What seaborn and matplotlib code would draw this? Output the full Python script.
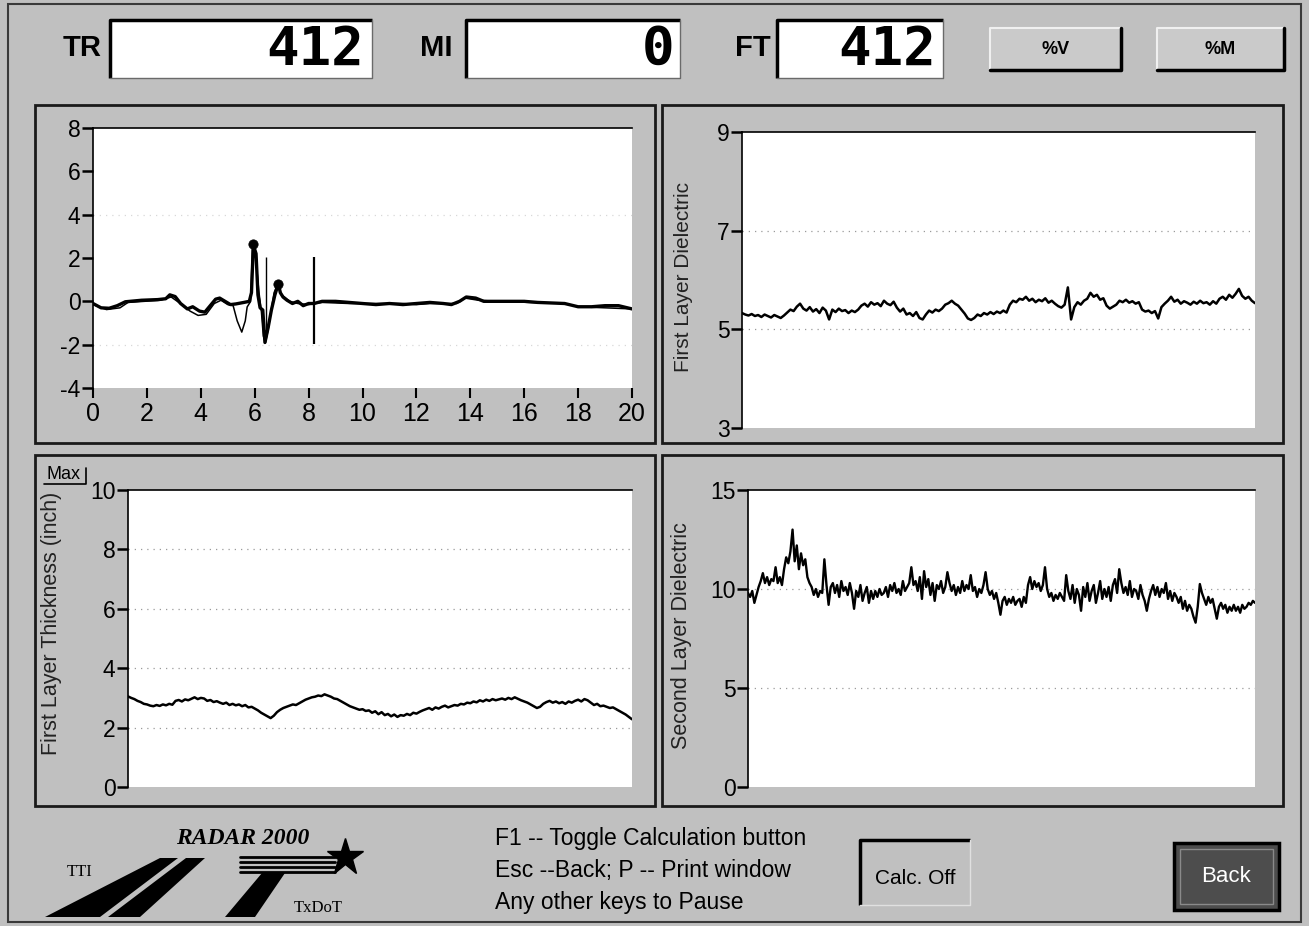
import matplotlib
matplotlib.use("Agg")
import matplotlib.pyplot as plt
import seaborn as sns
from matplotlib.patches import Rectangle, Polygon
from matplotlib.lines import Line2D

# ------------------------------------------------------------------ data
# top-left: GPR waveform (amplitude vs time, ns)
tl_x_main = [0, 0.3, 0.6, 0.9, 1.2, 1.8, 2.4, 2.7, 2.85, 3.05, 3.25, 3.5, 3.7, 3.95, 4.15,
             4.35, 4.55, 4.7, 4.9, 5.1, 5.3, 5.6, 5.8, 5.88, 5.95, 6.05, 6.12, 6.2, 6.3,
             6.38, 6.5, 6.62, 6.75, 6.88, 6.95, 7.05, 7.2, 7.4, 7.6, 7.8, 8.0, 8.2, 8.5,
             9.0, 9.5, 10.0, 10.5, 11.0, 11.5, 12.0, 12.5, 13.0, 13.3, 13.6, 13.85, 14.2,
             14.5, 15.0, 16.0, 16.5, 17.5, 18.0, 18.5, 19.0, 19.5, 20.0]
tl_y_main = [-0.1, -0.3, -0.32, -0.2, -0.02, 0.05, 0.08, 0.12, 0.3, 0.22, -0.1, -0.35, -0.25,
             -0.45, -0.5, -0.2, 0.1, 0.15, 0.0, -0.15, -0.12, -0.05, 0.0, 0.4, 2.6, 2.2, 0.3,
             -0.3, -0.4, -1.9, -1.2, -0.4, 0.3, 0.82, 0.4, 0.2, 0.05, -0.1, 0.0, -0.2, -0.1,
             -0.1, 0.0, 0.0, -0.05, -0.1, -0.15, -0.1, -0.15, -0.1, -0.05, -0.1, -0.15, 0.0,
             0.2, 0.15, 0.0, 0.0, 0.0, -0.05, -0.1, -0.25, -0.25, -0.2, -0.2, -0.35]
tl_x_ref = [0, 0.5, 1.0, 1.3, 2.5, 2.9, 3.3, 3.6, 3.9, 4.2, 4.5, 4.75, 5.0, 5.2, 5.35, 5.52,
            5.65, 5.72, 5.85, 5.92, 6.0, 6.15, 6.25, 6.32, 6.4, 6.5, 6.6, 6.72, 6.85, 7.0,
            7.3, 7.6, 8.0, 8.5, 9.5, 11.5, 12.0, 12.5, 13.5, 13.8, 14.3, 15.0, 17.5, 18.0, 20.0]
tl_y_ref = [-0.15, -0.38, -0.3, -0.05, 0.05, 0.2, -0.15, -0.45, -0.65, -0.6, -0.1, 0.05,
            -0.15, -0.2, -0.9, -1.42, -0.9, -0.26, 0.0, 2.6, 2.6, 0.5, -0.5, -1.6, -1.9, -1.3,
            -0.5, 0.4, 0.8, 0.3, 0.0, -0.1, -0.15, -0.05, -0.1, -0.1, -0.15, -0.1, -0.1, 0.15,
            0.05, 0.0, -0.1, -0.25, -0.35]
tl_peak_x = [5.95, 6.88]
tl_peak_y = [2.63, 0.82]
tl_cursor_x = [6.42, 8.2]
tl_cursor_lo = [-1.35, -1.95]
tl_cursor_hi = [2.05, 2.05]
tl_xticks = [0, 2, 4, 6, 8, 10, 12, 14, 16, 18, 20]
tl_yticks = [-4, -2, 0, 2, 4, 6, 8]

# top-right: first layer dielectric along the survey
dielec1 = [5.33, 5.30, 5.28, 5.31, 5.27, 5.29, 5.25, 5.30, 5.27, 5.24, 5.29, 5.26, 5.23, 5.28,
           5.34, 5.40, 5.37, 5.46, 5.52,
           5.42, 5.38, 5.45, 5.36, 5.41, 5.33, 5.44, 5.38, 5.20, 5.40, 5.35, 5.42, 5.37, 5.39,
           5.33, 5.38, 5.35, 5.40,
           5.48, 5.52, 5.46, 5.55, 5.50, 5.53, 5.47, 5.58, 5.52, 5.49, 5.56,
           5.44, 5.36, 5.42, 5.30, 5.33, 5.27, 5.35, 5.23, 5.20,
           5.30, 5.38, 5.34, 5.40, 5.37, 5.42,
           5.50, 5.53, 5.58, 5.52, 5.48,
           5.40, 5.32, 5.22, 5.19, 5.23,
           5.30, 5.27, 5.33, 5.30, 5.35, 5.31, 5.36, 5.33, 5.38, 5.34,
           5.50, 5.58, 5.55, 5.62, 5.60, 5.66,
           5.58, 5.62, 5.55, 5.60, 5.57, 5.63, 5.54, 5.58, 5.52,
           5.47, 5.44, 5.50, 5.85, 5.20,
           5.45, 5.55, 5.50, 5.58, 5.62, 5.74,
           5.66, 5.70, 5.60, 5.63,
           5.48, 5.42, 5.46, 5.50,
           5.58, 5.55, 5.60, 5.54, 5.57, 5.52, 5.55,
           5.40, 5.36, 5.38, 5.33, 5.37, 5.22,
           5.45, 5.52, 5.58, 5.66,
           5.56, 5.60, 5.52, 5.57, 5.54, 5.50, 5.56, 5.52, 5.58, 5.53, 5.55, 5.50, 5.57, 5.52,
           5.62, 5.66, 5.60, 5.70, 5.64, 5.72, 5.82,
           5.68, 5.62, 5.66, 5.58, 5.53]
dielec1_yticks = [3, 5, 7, 9]

# bottom-left: first layer thickness (inch)
thick1 = [3.05, 3.00, 2.96, 2.90, 2.86, 2.80, 2.78, 2.74, 2.72, 2.76, 2.73,
          2.78, 2.75, 2.80, 2.77,
          2.90, 2.93, 2.88, 2.95, 2.92,
          2.97, 3.02, 2.96, 3.00, 2.98,
          2.90, 2.93, 2.86, 2.89, 2.84,
          2.80, 2.84, 2.76, 2.80, 2.75, 2.78,
          2.72, 2.76, 2.68, 2.70, 2.64,
          2.58, 2.50, 2.44, 2.38,
          2.32, 2.40,
          2.52, 2.60, 2.66, 2.70, 2.74,
          2.78, 2.76, 2.82, 2.88, 2.94,
          2.98, 3.02, 3.04, 3.08, 3.06, 3.12,
          3.08, 3.04, 2.98, 2.96,
          2.90, 2.84, 2.78, 2.72, 2.68,
          2.64, 2.60, 2.62, 2.56, 2.58,
          2.50, 2.55, 2.45, 2.52, 2.42, 2.46,
          2.38, 2.44, 2.36, 2.42, 2.40,
          2.46, 2.42, 2.50, 2.47, 2.53,
          2.58, 2.62, 2.66, 2.60, 2.68, 2.64,
          2.70, 2.74, 2.68, 2.72, 2.76,
          2.74, 2.80, 2.78, 2.84, 2.82,
          2.88, 2.85, 2.92, 2.88, 2.94, 2.90,
          2.96, 2.92, 2.95, 2.98, 2.94,
          3.00, 2.96, 3.02, 2.97, 2.92,
          2.88, 2.84, 2.78,
          2.72, 2.66, 2.70,
          2.80, 2.86, 2.90, 2.84, 2.88,
          2.82, 2.86, 2.80, 2.88, 2.84,
          2.90, 2.94, 2.88, 2.96, 2.92,
          2.84, 2.76, 2.80, 2.72, 2.74,
          2.70, 2.66, 2.68, 2.62, 2.56,
          2.50, 2.44, 2.36, 2.28]
thick1_yticks = [0, 2, 4, 6, 8, 10]

# bottom-right: second layer dielectric
dielec2 = [9.8, 9.6, 9.9, 9.3, 9.7,
           10.1, 10.4, 10.8, 10.3, 10.6, 10.2, 10.5,
           10.4, 11.1, 10.3, 10.6,
           10.2, 11.0, 11.6, 11.3,
           11.9, 13.0, 11.4,
           12.2, 11.0, 11.8, 11.2, 11.5,
           10.6, 10.3, 10.1,
           9.7, 10.0, 9.6, 9.9, 9.8,
           11.5, 10.2, 9.2, 10.1,
           10.3, 9.8, 10.2, 9.6, 10.4, 9.9, 10.1, 9.7, 10.3, 9.8,
           9.0, 9.9,
           9.6, 10.2, 9.4, 9.8, 10.1, 9.3, 9.9, 9.5, 9.9, 9.6, 10.0, 9.7,
           9.8, 10.1, 9.6, 10.2, 9.9, 10.3, 9.8, 10.0, 9.7, 10.4, 9.9, 10.1,
           10.3, 11.1, 10.2,
           10.4, 9.9, 10.6, 9.5, 10.9, 10.1, 10.5, 9.7, 10.3, 9.4, 10.2, 10.0, 10.4, 9.8, 10.1, 10.85,
           10.3, 9.9, 10.2, 9.7, 10.1, 9.8, 10.4, 9.9, 10.2, 10.0, 10.7, 9.9, 10.1, 9.6, 10.0, 9.8, 10.2,
           10.85, 10.0,
           9.7, 9.9, 9.5, 9.8, 9.3, 8.7,
           9.4, 9.6, 9.2, 9.5, 9.3, 9.6, 9.2, 9.4, 9.5, 9.1, 9.6, 9.3,
           10.2, 10.6, 10.0, 10.4, 10.1, 10.3, 9.9, 10.2,
           11.1, 10.0,
           9.6, 9.8, 9.4, 9.7, 9.5, 9.8, 9.6, 9.4,
           10.7, 9.9,
           9.5, 10.2, 9.3, 10.0, 9.7, 8.9, 10.1, 9.6, 10.3, 9.4, 9.9, 10.2, 9.3, 9.8, 10.4, 9.5, 10.0, 9.6, 10.1, 9.4,
           10.2, 10.5, 9.8, 11.0,
           10.3, 9.8, 10.1, 9.7, 10.4, 9.6, 10.0, 9.9, 9.5, 10.2, 9.7, 9.4,
           8.9, 9.5,
           9.9, 10.2, 9.7, 10.1, 9.6, 10.0, 9.8, 10.3, 9.5, 9.9, 9.4, 9.8, 9.6,
           9.3, 9.6, 9.0, 9.4, 8.9, 9.2, 9.0, 8.6,
           8.3, 9.1,
           10.25, 9.8, 9.5,
           9.2, 9.6, 9.3, 9.5, 9.0, 8.5,
           9.1, 9.3, 9.0, 9.2, 8.8, 9.1, 8.9, 9.2,
           8.9, 9.1, 8.8, 9.2, 9.0, 9.1, 9.3, 9.2, 9.4, 9.3]
dielec2_yticks = [0, 5, 10, 15]

# header counters / buttons / footer
counter_names = ["TR", "MI", "FT"]
counter_values = ["412", "0", "412"]
button_labels = ["%V", "%M"]
help_lines = ["F1 -- Toggle Calculation button",
              "Esc --Back; P -- Print window",
              "Any other keys to Pause"]

# ------------------------------------------------------------------ setup
W, H = 1309, 926
BG = "#c0c0c0"
sns.set_style("white")
NARROW = ["Liberation Sans Narrow", "Liberation Sans", "DejaVu Sans"]
SANS = ["Liberation Sans", "DejaVu Sans"]
SERIF = ["Liberation Serif", "DejaVu Serif"]
plt.rcParams["font.family"] = NARROW
plt.rcParams["axes.unicode_minus"] = False

fig = plt.figure(figsize=(W / 100, H / 100), dpi=100)
fig.patch.set_facecolor(BG)


def add_ax(x0, y0, x1, y1):
    return fig.add_axes([x0 / W, 1 - y1 / H, (x1 - x0) / W, (y1 - y0) / H])


def rect(x0, y0, x1, y1, **kw):
    r = Rectangle((x0 / W, 1 - y1 / H), (x1 - x0) / W, (y1 - y0) / H,
                  transform=fig.transFigure, **kw)
    fig.add_artist(r)
    return r


def fline(xs, ys, **kw):
    fig.add_artist(Line2D([x / W for x in xs], [1 - y / H for y in ys],
                          transform=fig.transFigure, **kw))


def ftext(x, y, s, **kw):
    fig.text(x / W, 1 - y / H, s, **kw)


def sunken(x0, y0, x1, y1, face="white", dark=2.5):
    rect(x0, y0, x1, y1, facecolor=face, edgecolor="none")
    fline([x0, x0, x1], [y1, y0, y0], color="black", lw=dark, solid_capstyle="butt")
    fline([x0, x1, x1], [y1, y1, y0], color="#6a6a6a", lw=1.0)


def raised(x0, y0, x1, y1, face="#cacaca"):
    rect(x0, y0, x1, y1, facecolor=face, edgecolor="none")
    fline([x0, x0, x1], [y1, y0, y0], color="#f0f0f0", lw=1.5)
    fline([x0, x1, x1], [y1, y1, y0], color="black", lw=2.5)


# outer window border
rect(8, 4, 1301, 922, facecolor="none", edgecolor="#3a3a3a", lw=1.5)

# ------------------------------------------------------------------ header
hdr = [(82, 110, 372, 364), (436, 466, 680, 674), (753, 777, 943, 936)]
for name, val, (lx, bx0, bx1, rx) in zip(counter_names, counter_values, hdr):
    ftext(lx, 48, name, ha="center", va="center", fontsize=21, fontweight="bold",
          family=SANS, color="black")
    sunken(bx0, 20, bx1, 78)
    ftext(rx, 50, val, ha="right", va="center", fontsize=39, fontweight="bold",
          family=["DejaVu Sans Mono"], color="black")

for lab, (x0, x1) in zip(button_labels, [(990, 1121), (1157, 1284)]):
    raised(x0, 28, x1, 70)
    ftext((x0 + x1) / 2, 49, lab, ha="center", va="center", fontsize=13,
          fontweight="bold", family=SANS, color="black")

# ------------------------------------------------------------------ panels
for (x0, y0, x1, y1) in [(35, 105, 655, 443), (662, 105, 1283, 443),
                         (35, 455, 655, 806), (662, 455, 1283, 806)]:
    rect(x0, y0, x1, y1, facecolor="none", edgecolor="#1a1a1a", lw=2.0)


def style_ax(ax, yticks, grid_vals, grid_color="#9a9a9a"):
    ax.set_facecolor("white")
    ax.set_ylim(yticks[0], yticks[-1])
    ax.set_yticks(yticks)
    ax.set_yticklabels([str(v) for v in yticks])
    for s in ["right", "bottom"]:
        ax.spines[s].set_visible(False)
    for s in ["top", "left"]:
        ax.spines[s].set_visible(True)
        ax.spines[s].set_color("black")
        ax.spines[s].set_linewidth(1.2)
    ax.tick_params(axis="y", direction="out", length=8, width=1.8, pad=1,
                   labelsize=16.5, colors="black", left=True)
    for v in grid_vals:
        ax.axhline(v, color=grid_color, lw=0.9, ls=(0, (1, 4)), zorder=0)
    ax.set_xlabel("")
    ax.set_ylabel("")


# --- top-left waveform
ax1 = add_ax(93, 128, 632, 388)
sns.lineplot(x=tl_x_ref, y=tl_y_ref, ax=ax1, color="black", linewidth=1.1,
             estimator=None, sort=False)
sns.lineplot(x=tl_x_main, y=tl_y_main, ax=ax1, color="black", linewidth=2.4,
             estimator=None, sort=False)
ax1.vlines(tl_cursor_x, tl_cursor_lo, tl_cursor_hi, colors="black", linewidth=[1.0, 1.6])
sns.scatterplot(x=tl_peak_x, y=tl_peak_y, ax=ax1, color="black", s=45, zorder=5,
                edgecolor="black")
style_ax(ax1, tl_yticks, [4, -2], grid_color="#d8d8d8")
ax1.set_xlim(tl_xticks[0], tl_xticks[-1])
ax1.set_xticks(tl_xticks)
ax1.set_xticklabels([str(v) for v in tl_xticks])
ax1.tick_params(axis="x", direction="out", length=7, width=1.5, pad=3,
                labelsize=18, colors="black", bottom=True)

# --- top-right: first layer dielectric
ax2 = add_ax(742, 132, 1255, 428)
sns.lineplot(x=list(range(len(dielec1))), y=dielec1, ax=ax2, color="black",
             linewidth=1.8, estimator=None)
style_ax(ax2, dielec1_yticks, [5, 7])
ax2.set_xlim(0, len(dielec1) - 1)
ax2.set_xticks([])
ax2.set_ylabel("First Layer Dielectric", family=SANS, fontsize=15, color="#222222")
ax2.yaxis.set_label_coords(-0.095, 0.51)

# --- bottom-left: first layer thickness
ax3 = add_ax(128, 490, 632, 787)
sns.lineplot(x=list(range(len(thick1))), y=thick1, ax=ax3, color="black",
             linewidth=1.8, estimator=None)
style_ax(ax3, thick1_yticks, [2, 4, 6, 8])
ax3.set_xlim(0, len(thick1) - 1)
ax3.set_xticks([])
ax3.set_ylabel("First Layer Thickness (inch)", family=SANS, fontsize=15.5, color="#222222")
ax3.yaxis.set_label_coords(-0.13, 0.55)
ftext(64, 475, "Max", ha="center", va="center", fontsize=13, family=NARROW, color="black")
fline([44, 86, 86], [484, 484, 468], color="black", lw=1.2)

# --- bottom-right: second layer dielectric
ax4 = add_ax(748, 490, 1255, 787)
sns.lineplot(x=list(range(len(dielec2))), y=dielec2, ax=ax4, color="black",
             linewidth=1.7, estimator=None)
style_ax(ax4, dielec2_yticks, [5, 10])
ax4.set_xlim(0, len(dielec2) - 1)
ax4.set_xticks([])
ax4.set_ylabel("Second Layer Dielectric", family=SANS, fontsize=15.5, color="#222222")
ax4.yaxis.set_label_coords(-0.11, 0.51)

# ------------------------------------------------------------------ footer
ftext(243, 839, "RADAR 2000", ha="center", va="center", fontsize=17,
      fontweight="bold", fontstyle="italic", family=SERIF, color="black")
ftext(80, 872, "TTI", ha="center", va="center", fontsize=12, family=SERIF, color="black")
ftext(318, 908, "TxDoT", ha="center", va="center", fontsize=12, family=SERIF, color="black")


def fpoly(pts, **kw):
    fig.add_artist(Polygon([(x / W, 1 - y / H) for x, y in pts], closed=True,
                           transform=fig.transFigure, **kw))


# TTI road logo
fpoly([(45, 917), (100, 917), (178, 858), (160, 858)], facecolor="black", edgecolor="none")
fpoly([(108, 917), (140, 917), (205, 858), (186, 858)], facecolor="black", edgecolor="none")
# TxDOT logo
for yy in [857, 862, 867, 872]:
    fline([240, 335], [yy, yy], color="black", lw=2.0)
fig.add_artist(Line2D([345 / W], [1 - 857 / H], marker="*", markersize=28,
                      color="black", transform=fig.transFigure))
fpoly([(225, 917), (255, 917), (285, 873), (262, 873)], facecolor="black", edgecolor="none")

for i, line in enumerate(help_lines):
    ftext(495, 838 + 32 * i, line, ha="left", va="center", fontsize=16.5,
          family=NARROW, color="black")

# Calc. Off indicator
fline([860, 860, 970], [905, 840, 840], color="black", lw=2.5, solid_capstyle="butt")
fline([860, 970, 970], [905, 905, 840], color="#e0e0e0", lw=1.0)
ftext(915, 878, "Calc. Off", ha="center", va="center", fontsize=15, family=NARROW,
      color="black")

# Back button
rect(1174, 843, 1279, 910, facecolor="#4d4d4d", edgecolor="black", lw=2.5)
rect(1180, 849, 1273, 904, facecolor="none", edgecolor="#8a8a8a", lw=1.0)
ftext(1226, 877, "Back", ha="center", va="center", fontsize=16, family=NARROW,
      color="white")

fig.savefig("out.png", dpi=100, facecolor=fig.get_facecolor())
